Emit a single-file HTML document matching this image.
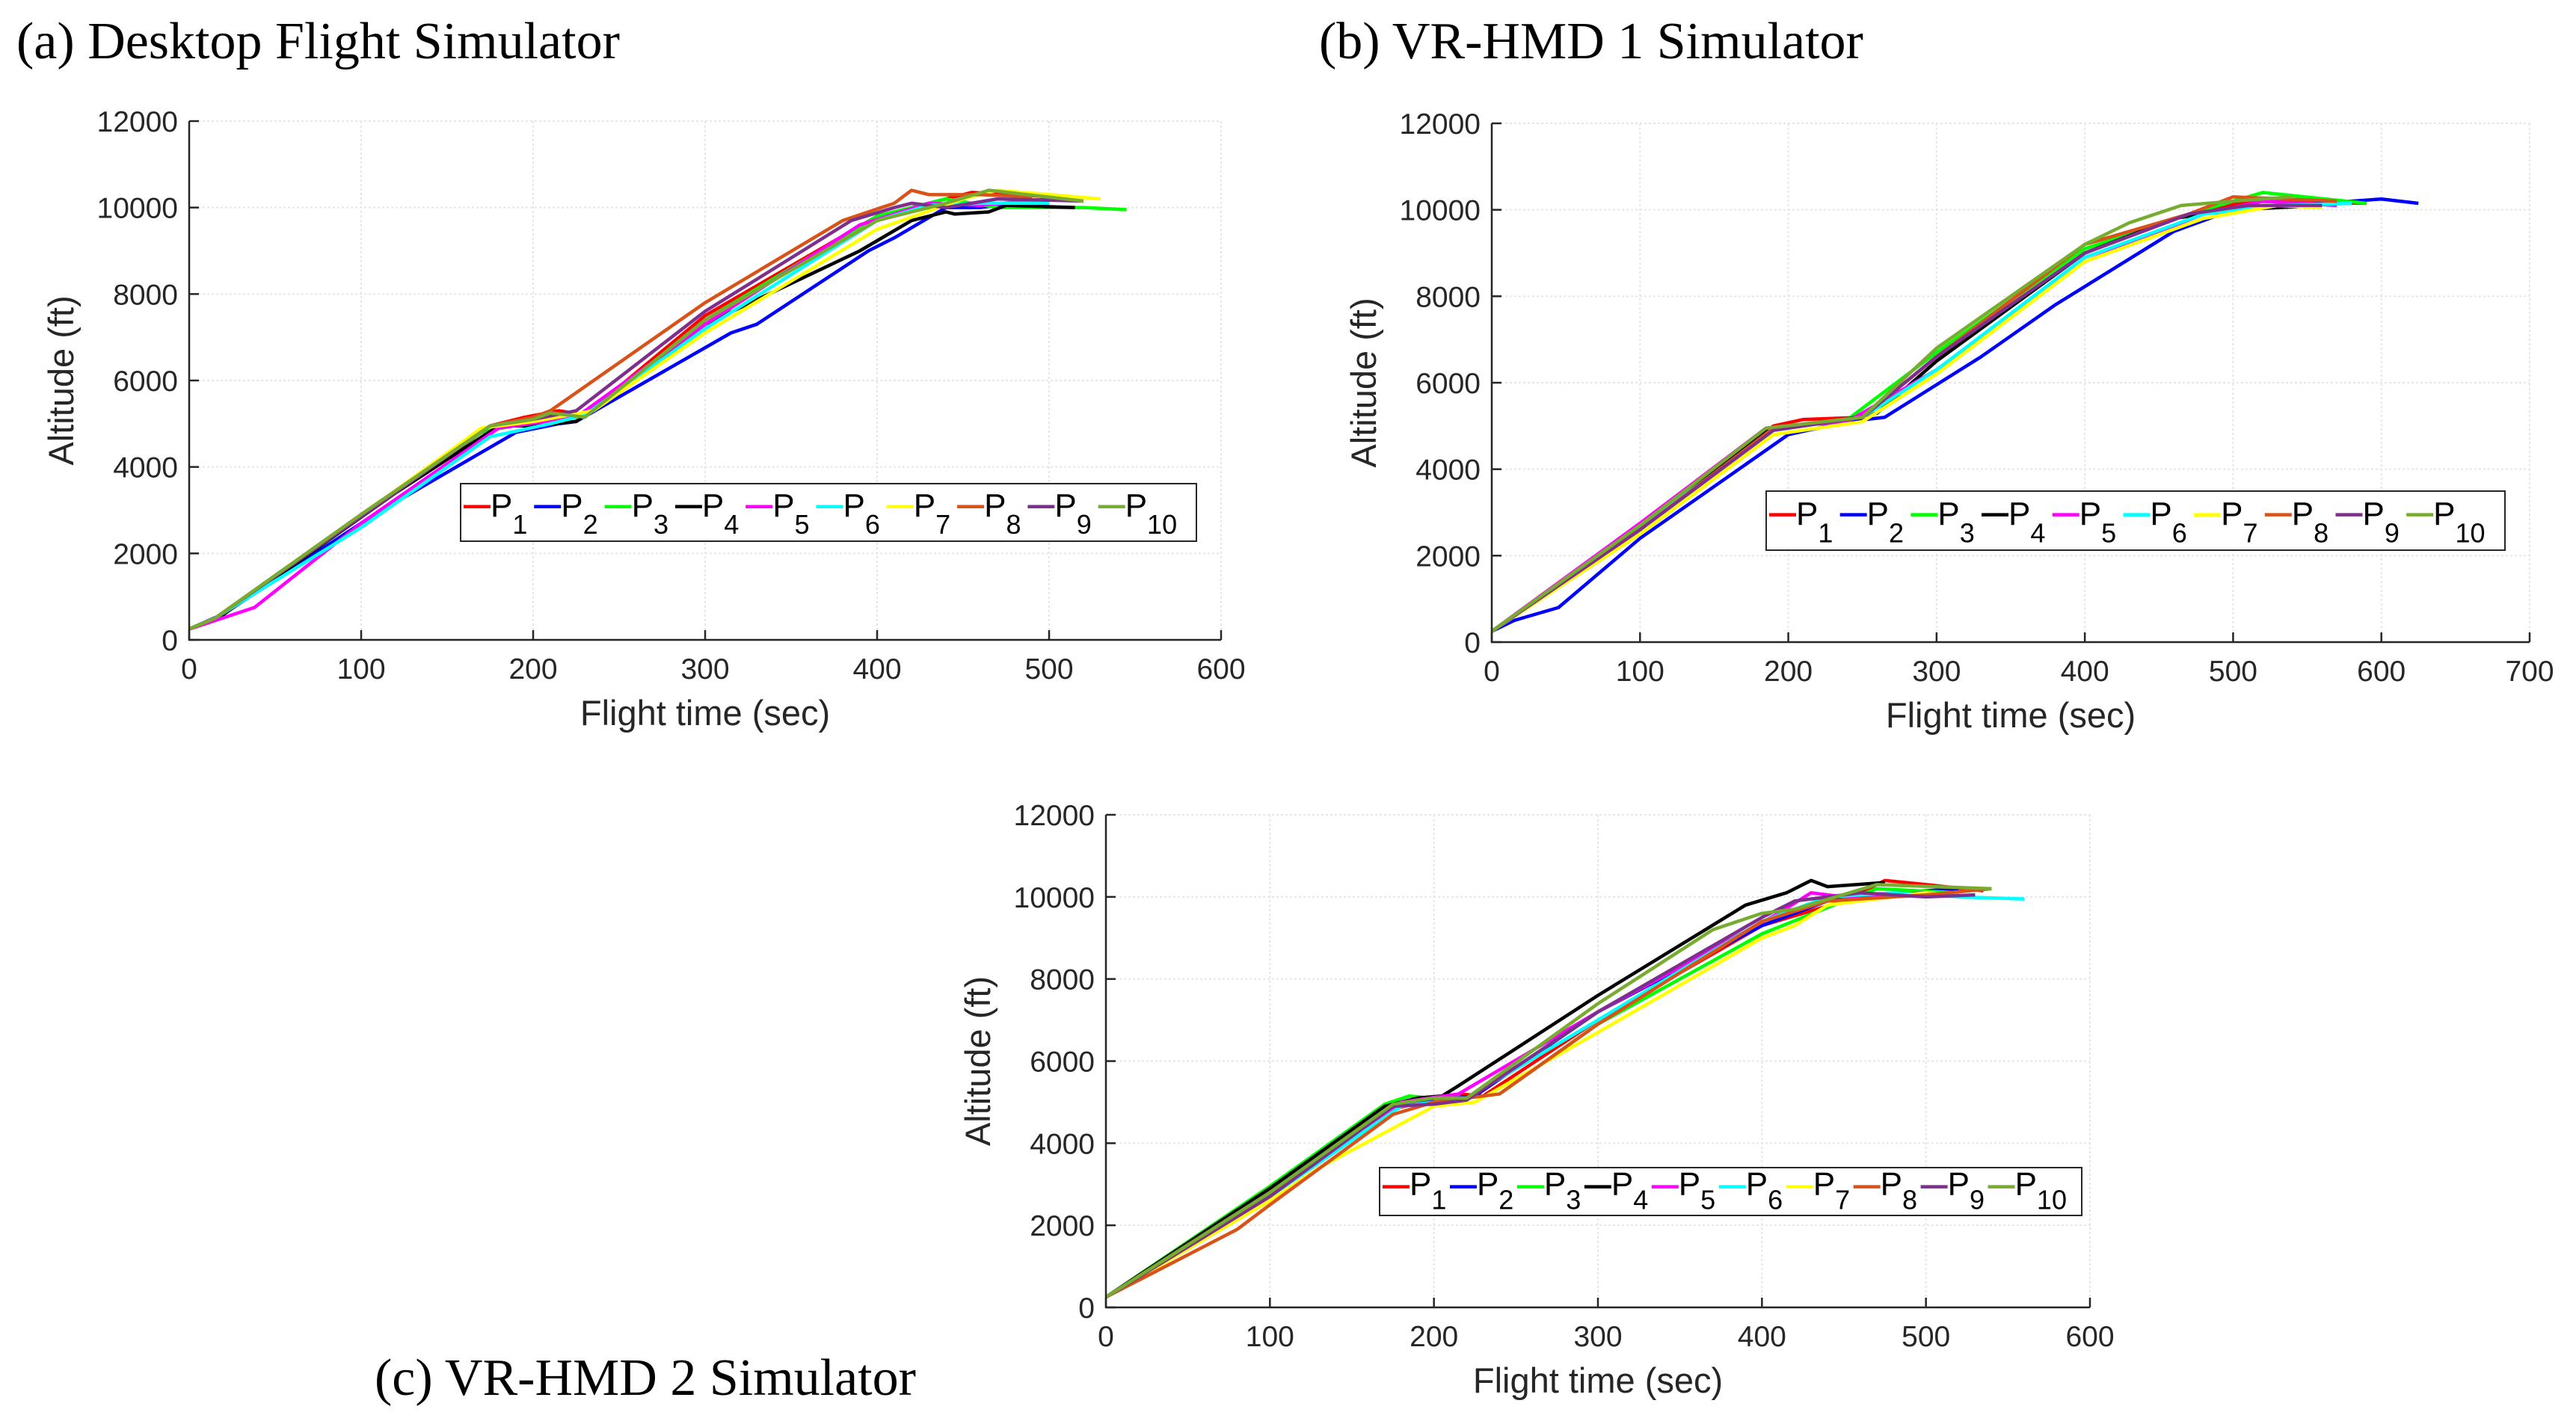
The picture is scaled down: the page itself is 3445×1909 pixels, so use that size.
<!DOCTYPE html>
<html><head><meta charset="utf-8">
<style>
html,body{margin:0;padding:0;background:#fff;}
svg{display:block;}
</style></head>
<body>
<svg id="fig" width="3445" height="1909" viewBox="0 0 3445 1909" xmlns="http://www.w3.org/2000/svg">
<rect width="3445" height="1909" fill="#fff"/>
<text x="22" y="78" font-family="Liberation Serif, serif" font-size="70">(a) Desktop Flight Simulator</text>
<text x="1764" y="78" font-family="Liberation Serif, serif" font-size="70">(b) VR-HMD 1 Simulator</text>
<text x="501" y="1866" font-family="Liberation Serif, serif" font-size="70">(c) VR-HMD 2 Simulator</text>
</svg>
<script>
const seriesNames = ['P1','P2','P3','P4','P5','P6','P7','P8','P9','P10'];
const seriesColors = ['#ff0000','#0000ff','#00ff00','#000000','#ff00ff','#00ffff','#ffff00','#d95319','#7e2f8e','#77ac30'];
const yTicks = [0,2000,4000,6000,8000,10000,12000];
const xTicksA = [0,100,200,300,400,500,600];
const xTicksB = [0,100,200,300,400,500,600,700];
const xTicksC = [0,100,200,300,400,500,600];

const dataA = [
 [[0,250],[15,500],[100,2900],[175,4950],[195,5150],[215,5300],[230,5200],[300,7500],[400,9800],[430,10100],[455,10350],[500,10250]],
 [[0,250],[20,600],[100,2700],[125,3300],[190,4800],[215,5000],[225,5050],[315,7100],[330,7300],[395,9000],[410,9300],[440,10000],[460,10000],[480,10100],[500,10050]],
 [[0,250],[15,500],[100,2900],[170,4800],[200,5050],[230,5150],[300,7400],[400,9800],[440,10200],[470,10000],[520,10000],[545,9950]],
 [[0,250],[15,450],[120,3400],[180,4950],[200,4950],[225,5050],[300,7300],[390,9000],[420,9700],[440,9900],[445,9850],[465,9900],[475,10050],[515,10000]],
 [[0,250],[38,750],[100,2700],[180,4900],[225,5150],[300,7300],[390,9600],[430,10100],[460,10050],[500,10200]],
 [[0,250],[15,500],[100,2600],[175,4700],[210,5000],[230,5200],[300,7200],[400,9700],[430,10050],[460,10100],[500,10100]],
 [[0,250],[15,500],[80,2300],[170,4900],[200,5050],[235,5300],[300,7100],[400,9500],[450,10200],[470,10400],[530,10200]],
 [[0,250],[15,500],[100,2900],[175,4950],[200,5150],[210,5300],[300,7800],[380,9700],[410,10100],[420,10400],[430,10300],[460,10300],[490,10250]],
 [[0,250],[15,500],[100,2850],[175,4950],[200,5100],[225,5300],[300,7600],[385,9700],[410,10000],[420,10100],[440,10000],[470,10200],[520,10150]],
 [[0,250],[15,500],[100,2900],[175,4950],[200,5100],[210,5250],[230,5150],[300,7400],[400,9700],[440,10100],[465,10400],[520,10150]]
];
const dataB = [
 [[0,250],[100,2600],[190,5000],[210,5150],[250,5200],[300,6600],[400,9000],[470,9900],[510,10200],[590,10150]],
 [[0,250],[15,500],[45,800],[100,2400],[200,4800],[240,5100],[265,5200],[330,6600],[380,7800],[460,9500],[500,10000],[580,10200],[600,10250],[625,10150]],
 [[0,250],[100,2700],[190,4900],[240,5150],[300,6700],[400,9100],[470,9900],[520,10400],[590,10150]],
 [[0,250],[100,2600],[185,4900],[230,5100],[260,5300],[300,6500],[400,9000],[460,9800],[500,10000],[560,10100]],
 [[0,250],[100,2750],[185,4950],[240,5100],[300,6300],[400,8800],[480,9900],[520,10200],[570,10100]],
 [[0,250],[100,2650],[190,4900],[250,5200],[300,6300],[400,8900],[480,9900],[530,10100],[580,10150]],
 [[0,250],[100,2500],[190,4800],[250,5100],[300,6200],[400,8800],[480,9800],[530,10100],[560,10050]],
 [[0,250],[100,2600],[190,4950],[250,5200],[300,6600],[400,9200],[470,9900],[500,10300],[570,10200]],
 [[0,250],[100,2600],[190,4900],[250,5200],[300,6600],[400,9000],[470,9900],[510,10100],[560,10100]],
 [[0,250],[100,2700],[185,4950],[250,5200],[300,6800],[400,9200],[430,9700],[465,10100],[500,10200],[540,10300]]
];
const dataC = [
 [[0,250],[100,2800],[170,4800],[200,5050],[215,5200],[230,5150],[300,7000],[400,9300],[450,9900],[475,10400],[500,10300],[535,10150]],
 [[0,250],[100,2850],[170,4900],[200,5050],[225,5150],[300,7200],[400,9300],[440,9900],[460,10000],[480,10100],[520,10200]],
 [[0,250],[100,2950],[170,4950],[185,5150],[210,5050],[240,5200],[300,6900],[400,9100],[450,9900],[470,10200],[520,10100]],
 [[0,250],[100,2900],[170,4900],[190,5100],[205,5150],[215,5400],[300,7600],[390,9800],[415,10100],[430,10400],[440,10250],[475,10350]],
 [[0,250],[100,2800],[180,5000],[215,5200],[300,7200],[410,9600],[430,10100],[450,10000],[500,10100]],
 [[0,250],[100,2700],[180,4900],[220,5100],[300,7000],[400,9400],[440,10000],[480,10100],[520,10000],[560,9950]],
 [[0,250],[100,2600],[130,3400],[200,4900],[225,5000],[300,6700],[400,9000],[420,9300],[440,9800],[460,9900],[500,10100],[520,10050]],
 [[0,250],[80,1900],[100,2500],[175,4700],[200,5000],[240,5200],[300,6900],[400,9400],[440,9900],[500,10050],[540,10200]],
 [[0,250],[100,2700],[175,4900],[200,4950],[220,5050],[300,7200],[400,9500],[420,9900],[460,10100],[500,10000],[530,10050]],
 [[0,250],[100,2800],[175,4950],[200,5100],[220,5100],[300,7400],[370,9200],[400,9600],[420,9700],[470,10300],[540,10200]]
];

const NS='http://www.w3.org/2000/svg';
const svg=document.getElementById('fig');
function el(tag,attrs,parent){const e=document.createElementNS(NS,tag);for(const k in attrs)e.setAttribute(k,attrs[k]);(parent||svg).appendChild(e);return e;}

function panel(id,x0,x1,y0,y1,xmax,xTicks,data,leg){
  const g=el('g',{});
  
  
  const sx=v=>x0+(x1-x0)*v/xmax;
  const sy=v=>y0-(y0-y1)*v/12000;
  xTicks.forEach(t=>{const l=el('line',{x1:sx(t),x2:sx(t),y1:y1,y2:y0,stroke:'#e6e6e6','stroke-width':2,'stroke-dasharray':'3,3'},g);
    
    });
  yTicks.forEach(t=>{const l=el('line',{x1:x0,x2:x1,y1:sy(t),y2:sy(t),stroke:'#e6e6e6','stroke-width':2,'stroke-dasharray':'3,3'},g);
    
    });
  data.forEach((s,i)=>{
    const p=el('polyline',{points:s.map(d=>sx(d[0])+','+sy(d[1])).join(' '),fill:'none',stroke:seriesColors[i],'stroke-width':4.5,'stroke-linejoin':'round'},g);
    
    
  });
  const ax=el('path',{d:`M${x0},${y1} L${x0},${y0} L${x1},${y0}`,fill:'none',stroke:'#262626','stroke-width':2.5},g);
  
  
  xTicks.forEach(t=>{
    el('line',{x1:sx(t),x2:sx(t),y1:y0,y2:y0-13,stroke:'#262626','stroke-width':2.5},g);
    const tx=el('text',{x:sx(t),y:y0+52,'text-anchor':'middle','font-family':'Liberation Sans, sans-serif','font-size':39,fill:'#262626'},g);
    tx.textContent=t;
    
    
  });
  yTicks.forEach(t=>{
    el('line',{x1:x0,x2:x0+13,y1:sy(t),y2:sy(t),stroke:'#262626','stroke-width':2.5},g);
    const tx=el('text',{x:x0-15,y:sy(t)+14,'text-anchor':'end','font-family':'Liberation Sans, sans-serif','font-size':39,fill:'#262626'},g);
    tx.textContent=t;
    
    
  });
  const xt=el('text',{x:(x0+x1)/2,y:y0+114,'text-anchor':'middle','font-family':'Liberation Sans, sans-serif','font-size':47,fill:'#262626'},g);
  xt.textContent='Flight time (sec)';
  
  
  const yc=(y0+y1)/2, yx=x0-155;
  const yt=el('text',{x:yx,y:yc,'text-anchor':'middle','font-family':'Liberation Sans, sans-serif','font-size':47,fill:'#262626',transform:`rotate(-90 ${yx} ${yc})`},g);
  yt.textContent='Altitude (ft)';
  
  
  const [lx,ly,lw,lh]=leg;
  const lg=el('g',{},g);
  
  
  el('rect',{x:lx,y:ly,width:lw,height:lh,fill:'#fff',stroke:'#262626','stroke-width':2},lg);
  const step=(lw-8)/10.35;
  seriesNames.forEach((n,i)=>{
    const ex=lx+4+i*step;
    const e=el('g',{},lg);
    
    
    el('line',{x1:ex,x2:ex+36,y1:ly+lh*0.4,y2:ly+lh*0.4,stroke:seriesColors[i],'stroke-width':4.5},e);
    const t=el('text',{x:ex+36,y:ly+lh*0.57,'font-family':'Liberation Sans, sans-serif','font-size':44,fill:'#000'},e);
    t.textContent='P';
    const s=el('tspan',{dy:lh*0.3,'font-size':36},t);
    s.textContent=n.slice(1);
  });
}
panel('a',253,1633,856,162,600,xTicksA,dataA,[616,647,984,77]);
panel('b',1995,3383,859,165,700,xTicksB,dataB,[2362,657,988,79]);
panel('c',1479,2795,1749,1090,600,xTicksC,dataC,[1845,1562,939,64]);
</script>
</body></html>
